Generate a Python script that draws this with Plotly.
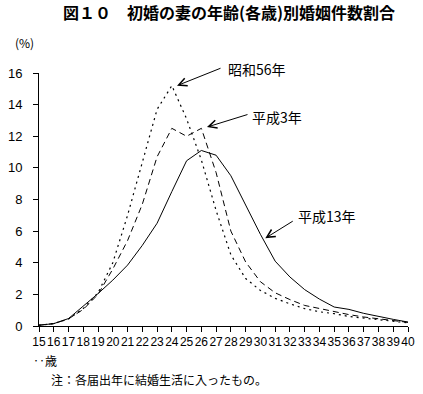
import plotly.graph_objects as go

ages = list(range(15, 41))
age_labels = [str(a) for a in ages]

showa56 = [0.05, 0.15, 0.45, 1.1, 2.1, 4.0, 7.0, 10.4, 13.7, 15.2, 13.1, 10.5,
           7.3, 4.5, 3.0, 2.25, 1.75, 1.4, 1.1, 0.9, 0.78, 0.6, 0.5, 0.36, 0.26, 0.2]
heisei3 = [0.05, 0.15, 0.45, 1.05, 2.0, 3.6, 5.4, 7.7, 10.7, 12.5, 12.0, 12.5,
           9.7, 6.0, 4.05, 2.8, 2.1, 1.67, 1.3, 1.1, 0.9, 0.72, 0.57, 0.47, 0.36, 0.23]
heisei13 = [0.05, 0.15, 0.47, 1.25, 2.05, 2.9, 3.85, 5.1, 6.5, 8.5, 10.45, 11.1,
            10.8, 9.5, 7.6, 5.8, 4.1, 3.1, 2.3, 1.7, 1.2, 1.05, 0.8, 0.6, 0.42, 0.25]

series_names = ["昭和56年", "平成3年", "平成13年"]

JP = "Noto Sans CJK JP"
NUM = "Liberation Sans"

fig = go.Figure()
fig.add_trace(go.Scatter(x=ages, y=showa56, mode="lines", name=series_names[0],
                         line=dict(color="black", width=1.2, dash="2px,4px")))
fig.add_trace(go.Scatter(x=ages, y=heisei3, mode="lines", name=series_names[1],
                         line=dict(color="black", width=1, dash="6px,4px")))
fig.add_trace(go.Scatter(x=ages, y=heisei13, mode="lines", name=series_names[2],
                         line=dict(color="black", width=1)))

fig.update_layout(
    width=423, height=394, autosize=False,
    margin=dict(l=35, r=8, t=73, b=68),
    paper_bgcolor="white", plot_bgcolor="white",
    showlegend=False,
    font=dict(family=JP, color="black"),
)
fig.update_xaxes(
    range=[15, 40], tickmode="array", tickvals=ages, ticktext=age_labels,
    tickangle=0, ticks="outside", ticklen=5, tickcolor="black",
    showline=True, linecolor="black", linewidth=1,
    showgrid=False, zeroline=False,
    tickfont=dict(family=NUM, size=12, color="black"),
)
fig.update_yaxes(
    range=[0, 16], dtick=2, tick0=0, ticks="outside", ticklen=5, tickcolor="black",
    showline=True, linecolor="black", linewidth=1,
    showgrid=False, zeroline=False, ticklabelstandoff=8,
    tickfont=dict(family=NUM, size=13, color="black"),
)

ann = []
# title
ann.append(dict(text="<b>図１０　初婚の妻の年齢(各歳)別婚姻件数割合</b>", xref="paper", yref="paper",
                x=0.516, y=1.241, xanchor="center", yanchor="middle", showarrow=False,
                font=dict(family=JP, size=16, color="black")))
ann.append(dict(text="(%)", xref="paper", yref="paper", x=-0.04, y=1.12,
                xanchor="center", yanchor="middle", showarrow=False,
                font=dict(family=JP, size=12)))
ann.append(dict(text="‥歳", xref="paper", yref="paper", x=0.016, y=-0.138,
                xanchor="center", yanchor="middle", showarrow=False,
                font=dict(family=JP, size=12)))
ann.append(dict(text="注：各届出年に結婚生活に入ったもの。", xref="paper", yref="paper",
                x=0.026, y=-0.213, xanchor="left", yanchor="middle", showarrow=False,
                font=dict(family=JP, size=12)))

# series labels (paper coords) and arrows (head at data point, tail offset in px)
labels = [
    (series_names[0], 0.508, 1.016, 24.35, 15.2, 45, -18),
    (series_names[1], 0.571, 0.827, 26.38, 12.58, 42, -13),
    (series_names[2], 0.697, 0.435, 30.33, 5.55, 29, -18),
]
for txt, tx, ty, hx, hy, axp, ayp in labels:
    ann.append(dict(text=txt, x=tx, y=ty, xref="paper", yref="paper", xanchor="left",
                    yanchor="middle", showarrow=False,
                    font=dict(family=JP, size=14)))
    ann.append(dict(text="", x=hx, y=hy, xref="x", yref="y", ax=axp, ay=ayp,
                    showarrow=True, arrowhead=5, arrowsize=1.6, arrowwidth=1,
                    arrowcolor="black"))
fig.update_layout(annotations=ann)

fig.write_html("out.html", config={"displayModeBar": False},
               post_script="document.body.style.margin='0';document.body.style.padding='0';")
